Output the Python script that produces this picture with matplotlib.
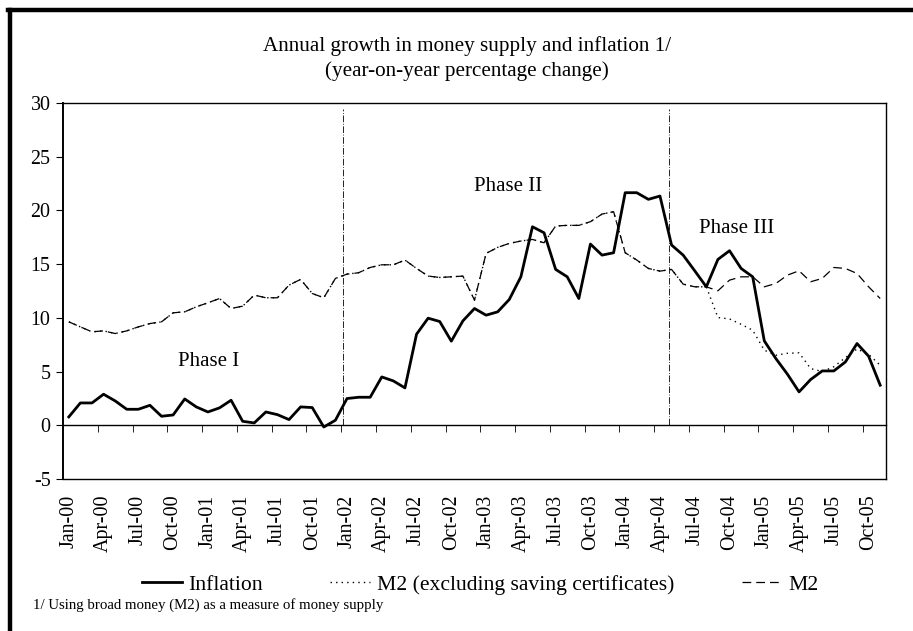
import numpy as np
import matplotlib
matplotlib.use("Agg")
import matplotlib.pyplot as plt
from matplotlib.lines import Line2D

plt.rcParams['font.family'] = ['Liberation Serif', 'DejaVu Serif']
plt.rcParams['font.size'] = 14.4
plt.rcParams['axes.unicode_minus'] = False

# monthly data, Jan-00 .. Nov-05
months = ['Jan', 'Feb', 'Mar', 'Apr', 'May', 'Jun', 'Jul', 'Aug', 'Sep', 'Oct', 'Nov', 'Dec']
years = ['00', '01', '02', '03', '04', '05']
labels = [m + '-' + y for y in years for m in months][:71]

inflation = [0.78, 2.08, 2.08, 2.89, 2.27, 1.49, 1.49, 1.86, 0.84, 0.96, 2.45, 1.71,
             1.24, 1.62, 2.33, 0.37, 0.22, 1.24, 0.99, 0.53, 1.71, 1.65, -0.16, 0.47,
             2.49, 2.61, 2.61, 4.50, 4.13, 3.48, 8.48, 9.97, 9.66, 7.83, 9.72, 10.87,
             10.25, 10.56, 11.71, 13.82, 18.48, 17.92, 14.51, 13.82, 11.80, 16.87, 15.84, 16.06,
             21.65, 21.65, 21.03, 21.34, 16.78, 15.84, 14.38, 12.89, 15.44, 16.25, 14.60, 13.82,
             7.86, 6.21, 4.75, 3.11, 4.26, 5.06, 5.06, 5.90, 7.61, 6.43, 3.73]

m2 = [9.63, 9.16, 8.70, 8.79, 8.54, 8.79, 9.16, 9.47, 9.63, 10.47, 10.56, 11.03,
      11.40, 11.80, 10.87, 11.09, 12.12, 11.87, 11.87, 13.05, 13.58, 12.27, 11.87, 13.67,
      14.07, 14.20, 14.69, 14.94, 14.94, 15.38, 14.60, 13.89, 13.76, 13.82, 13.89, 11.65,
      16.00, 16.56, 16.93, 17.15, 17.30, 16.99, 18.55, 18.61, 18.61, 18.95, 19.66, 19.88,
      16.06, 15.38, 14.60, 14.35, 14.51, 13.14, 12.89, 12.89, 12.52, 13.51, 13.82, 13.82,
      12.89, 13.20, 13.98, 14.38, 13.36, 13.67, 14.69, 14.60, 14.13, 12.89, 11.80]

# M2 excluding saving certificates: same as M2 until Aug-04
m2_excl = m2[:56] + [10.03, 9.90, 9.40, 8.85, 6.99, 6.52, 6.70, 6.74, 5.28, 5.00,
                     5.45, 6.30, 7.10, 6.60, 5.59]

phase_breaks = [23.65, 51.8]
phase_names = ['Phase I', 'Phase II', 'Phase III']
phase_pos = [(12.1, 5.9), (37.9, 22.2), (57.6, 18.3)]

x = np.arange(len(labels))

fig = plt.figure(figsize=(9.13, 6.31), dpi=100)
ax = fig.add_axes([63/913, 1-479/631, (886-63)/913, (479-103)/631])

ax.plot(x, m2, color='black', lw=0.9, linestyle=(0, (7, 4)), label='M2', zorder=3)
ax.plot(x, m2_excl, color='black', lw=1.0, linestyle=(0, (1, 3)),
        label='M2 (excluding saving certificates)', zorder=4)
ax.plot(x, inflation, color='black', lw=2.0, label='Inflation', zorder=5)

for b in phase_breaks:
    ax.plot([b, b], [0, 29.4], color='black', lw=0.6, linestyle=(0, (8, 2, 1, 2)), zorder=2)

for name, (px, py) in zip(phase_names, phase_pos):
    ax.text(px, py, name, ha='center', va='center', fontsize=15)

ax.set_xlim(-0.5, len(labels) - 0.5)
ax.set_ylim(-5, 30)
ax.set_yticks(np.arange(-5, 31, 5))
ax.tick_params(axis='y', direction='out', length=5, pad=4)

# x axis crosses at zero, labels below the plot
ax.spines['bottom'].set_position(('data', 0))
ax.set_xticks(x[::3])
ax.set_xticklabels(labels[::3], rotation=90, va='top')
ax.tick_params(axis='x', which='major', length=0, pad=50)
ax.set_xticks(np.arange(2.5, len(labels) - 1, 3), minor=True)
ax.tick_params(axis='x', which='minor', direction='out', length=5)
ax.axhline(-5, color='black', lw=1.0, clip_on=False)
for s in ['top', 'right', 'bottom']:
    ax.spines[s].set_linewidth(1.0)
ax.spines['left'].set_linewidth(1.4)

fig.text(467/913, 1-46/631, 'Annual growth in money supply and inflation 1/',
         ha='center', va='center', fontsize=15.2)
fig.text(467/913, 1-71/631, '(year-on-year percentage change)',
         ha='center', va='center', fontsize=15.2)

h, l = ax.get_legend_handles_labels()
order = [2, 1, 0]
fig.legend([h[i] for i in order], [l[i] for i in order], loc='center left',
           bbox_to_anchor=(142/913, 1-585/631), ncol=3, frameon=False,
           prop={'family': 'Liberation Serif', 'size': 15.6},
           borderpad=0, borderaxespad=0, handlelength=1.85, handletextpad=0.3,
           columnspacing=3.1)

fig.text(33/913, 1-605/631, '1/ Using broad money (M2) as a measure of money supply',
         fontsize=10.7, ha='left', va='center')

# frame on the left and top edges
fig.add_artist(Line2D([10/913, 10/913], [0, 1-10/631], color='black', lw=3.2,
                      transform=fig.transFigure))
fig.add_artist(Line2D([8/913, 1], [1-10/631, 1-10/631], color='black', lw=3.2,
                      transform=fig.transFigure))

fig.savefig('out.png', dpi=100)
